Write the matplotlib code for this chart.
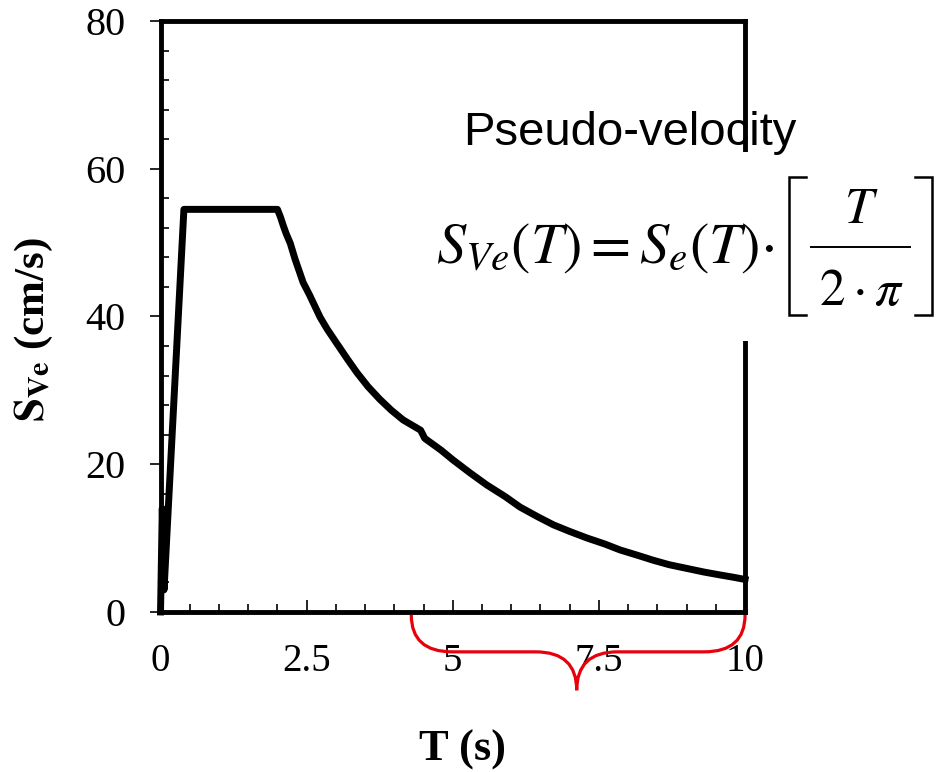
import matplotlib
matplotlib.use("Agg")
import matplotlib.pyplot as plt
from matplotlib.path import Path
from matplotlib.patches import PathPatch, Rectangle
from matplotlib.lines import Line2D
from matplotlib.ticker import MultipleLocator

# spectrum
period = [0, 0.03, 0.06, 0.4, 2.0, 2.05, 2.1, 2.15, 2.22, 2.3, 2.44, 2.55,
          2.73, 2.85, 3.02, 3.2, 3.36, 3.55, 3.75, 3.95, 4.15, 4.3, 4.45,
          4.52, 4.8, 5.0, 5.3, 5.58, 5.9, 6.15, 6.45, 6.72, 7.0, 7.30, 7.6,
          7.86, 8.15, 8.43, 8.7, 9.0, 9.3, 9.58, 9.8, 10.0]
s_ve = [0, 14, 3, 54.5, 54.5, 53.5, 52.3, 51.2, 49.9, 47.8, 44.6, 42.9,
        39.9, 38.3, 36.3, 34.2, 32.4, 30.5, 28.8, 27.3, 26.0, 25.3, 24.6,
        23.5, 21.9, 20.6, 18.8, 17.2, 15.6, 14.2, 12.9, 11.8, 10.9, 10.0,
        9.2, 8.4, 7.7, 7.0, 6.4, 5.9, 5.4, 5.0, 4.7, 4.4]

x_ticks = [0, 2.5, 5, 7.5, 10]
x_labels = ["0", "2.5", "5", "7.5", "10"]
y_ticks = [0, 20, 40, 60, 80]

# red brace under the long-period range
brace_left, brace_right, brace_tip = 4.29, 10.0, 7.12

W, H = 936, 772


def px(x, y):
    # pixel position (from top-left) -> figure fraction
    return x / W, 1 - y / H


plt.rcParams['font.family'] = ['Liberation Serif', 'DejaVu Serif']
plt.rcParams['mathtext.fontset'] = 'stix'

fig = plt.figure(figsize=(W / 100, H / 100), dpi=100)
ax = fig.add_axes([0.1715, 0.2073, 0.6245, 0.7655])

ax.plot(period, s_ve, color='black', lw=5, solid_joinstyle='round',
        clip_on=False, zorder=3)

ax.set_xlim(0, 10)
ax.set_ylim(0, 80)
for sp in ax.spines.values():
    sp.set_linewidth(3.5)

ax.set_xticks(x_ticks)
ax.set_xticklabels(x_labels)
ax.set_yticks(y_ticks)
ax.xaxis.set_minor_locator(MultipleLocator(0.5))
ax.yaxis.set_minor_locator(MultipleLocator(4))
ax.tick_params(axis='x', which='major', direction='in', length=9, width=1.2,
               labelsize=28, pad=22)
ax.tick_params(axis='x', which='minor', direction='in', length=6, width=1.2)
ax.tick_params(axis='y', which='major', direction='out', length=8, width=1.2,
               labelsize=29, pad=17)
ax.tick_params(axis='y', which='minor', direction='in', length=6, width=1.2)

ax.set_xlabel("T (s)", fontsize=32, fontweight='bold', labelpad=36)
ax.xaxis.label.set_x(0.517)
ax.set_ylabel(r"$\mathbf{S}_{\mathbf{Ve}}$ (cm/s)", fontsize=31,
              fontweight='bold', labelpad=22)
ax.yaxis.label.set_y(0.478)

# brace
top, mid, bot = -0.4, -5.4, -10.6
rx = 0.7
verts = [(brace_left, top), (brace_left, mid), (brace_left + rx, mid),
         (brace_tip - rx, mid), (brace_tip, mid), (brace_tip, bot),
         (brace_tip, mid), (brace_tip + rx, mid),
         (brace_right - rx, mid), (brace_right, mid), (brace_right, top)]
codes = [Path.MOVETO, Path.CURVE3, Path.CURVE3,
         Path.LINETO, Path.CURVE3, Path.CURVE3,
         Path.CURVE3, Path.CURVE3,
         Path.LINETO, Path.CURVE3, Path.CURVE3]
ax.add_patch(PathPatch(Path(verts, codes), fill=False, edgecolor='#e8000b',
                       lw=2.3, clip_on=False, zorder=4))

# white patch behind the formula, hides part of the right spine
x0, y0 = px(725, 341)
x1, y1 = px(765, 152)
fig.patches.append(Rectangle((x0, y0), x1 - x0, y1 - y0, facecolor='white',
                             edgecolor='none', transform=fig.transFigure,
                             zorder=1))

fig.text(*px(463, 145), "Pseudo-velocity", fontsize=34,
         family='Liberation Sans', ha='left', va='baseline', zorder=3)

# formula
fig.text(*px(436, 263),
         r"$S_{Ve}\left(T\right) = S_e\left(T\right){\cdot}$",
         fontsize=42, ha='left', va='baseline', zorder=3)
fig.text(*px(861, 223), r"$T$", fontsize=37, ha='center', va='baseline',
         zorder=3)
fig.text(*px(861, 305), r"$2\cdot\pi$", fontsize=37, ha='center',
         va='baseline', zorder=3)
bx, by = zip(px(811, 247), px(910, 247))
fig.add_artist(Line2D(bx, by, color='black', lw=1.4,
                      transform=fig.transFigure))
for stem, tip in [(789, 806), (932, 915)]:
    lx, ly = zip(px(tip, 177), px(stem, 177), px(stem, 315), px(tip, 315))
    fig.add_artist(Line2D(lx, ly, color='black', lw=1.8,
                          solid_joinstyle='miter',
                          transform=fig.transFigure))

fig.savefig("out.png", dpi=100)
